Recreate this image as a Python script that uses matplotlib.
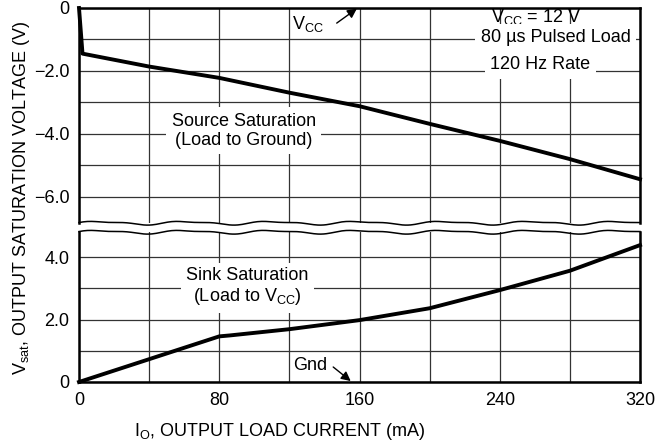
import numpy as np
import matplotlib.pyplot as plt

plt.rcParams['font.family'] = ['Liberation Sans Narrow', 'Liberation Sans', 'DejaVu Sans']
plt.rcParams['mathtext.fontset'] = 'custom'
plt.rcParams['mathtext.rm'] = 'Liberation Sans'
plt.rcParams['mathtext.it'] = 'Liberation Sans'
plt.rcParams['font.size'] = 13

# source saturation (load to ground) - upper panel
source_ma = [0, 2, 40, 80, 120, 160, 200, 240, 280, 320]
source_v = [0, -1.45, -1.86, -2.22, -2.69, -3.12, -3.68, -4.22, -4.80, -5.44]
# sink saturation (load to Vcc) - lower panel
sink_ma = [0, 80, 86, 120, 160, 200, 240, 280, 320]
sink_v = [0, 1.46, 1.49, 1.69, 1.98, 2.36, 2.94, 3.56, 4.38]

x_ticks = [0, 80, 160, 240, 320]
x_minor = [40, 120, 200, 280]
top_ticks = [0, -2, -4, -6]
top_minor = [-1, -3, -5]
top_labels = ['0', '\u22122.0', '\u22124.0', '\u22126.0']
bot_ticks = [0, 2, 4]
bot_minor = [1, 3]
bot_labels = ['0', '2.0', '4.0']

fig = plt.figure(figsize=(6.69, 4.46), dpi=100)
L, R = 79 / 669, 640 / 669
ax1 = fig.add_axes([L, 1 - 223 / 446, R - L, 215 / 446])
ax2 = fig.add_axes([L, 1 - 382 / 446, R - L, 150 / 446])

ax1.set_ylim(-6.83, 0)
ax2.set_ylim(0, 4.8)
ax1.set_yticks(top_ticks)
ax1.set_yticklabels(top_labels)
ax1.set_yticks(top_minor, minor=True)
ax2.set_yticks(bot_ticks)
ax2.set_yticklabels(bot_labels)
ax2.set_yticks(bot_minor, minor=True)

for ax in (ax1, ax2):
    ax.set_xlim(0, 320)
    ax.set_xticks(x_ticks)
    ax.set_xticks(x_minor, minor=True)
    ax.grid(True, which='both', color='#333333', lw=0.9)
    ax.set_axisbelow(True)
    ax.tick_params(which='both', length=0, pad=7, labelsize=13)
    for s in ax.spines.values():
        s.set_linewidth(1.8)
ax1.tick_params(axis='x', labelbottom=False)
ax1.spines['bottom'].set_visible(False)
ax2.spines['top'].set_visible(False)

# wavy break lines
xs = np.linspace(0, 1, 400)
wave = 1.5 * np.sin(2 * np.pi * xs * 6.5) + 0.7 * np.sin(2 * np.pi * xs * 13 + 0.7)
ax1.plot(xs, wave / 215, transform=ax1.transAxes, color='k', lw=1.1, clip_on=False)
ax2.plot(xs, 1 + wave / 150, transform=ax2.transAxes, color='k', lw=1.1, clip_on=False)

ax1.plot(source_ma, source_v, color='k', lw=2.8, clip_on=False, zorder=5)
ax2.plot(sink_ma, sink_v, color='k', lw=2.8, clip_on=False, zorder=5)

white = dict(boxstyle='square,pad=0.3', fc='white', ec='none')

ax1.text(94, -3.9, 'Source Saturation\n(Load to Ground)', ha='center', va='center',
         linespacing=1.15, bbox=white)
ax2.text(96, 3.04, 'Sink Saturation\n(Load to V$_{\\mathrm{CC}}$)', ha='center', va='center',
         linespacing=1.15, bbox=white)

ax1.text(121.5, -0.5, 'V$_{\\mathrm{CC}}$', ha='left', va='center')
ax1.annotate('', xy=(158.5, -0.02), xytext=(147, -0.48),
             arrowprops=dict(arrowstyle='-|>', color='k', lw=1, shrinkA=0, shrinkB=0,
                             mutation_scale=14))
ax2.text(122, 0.54, 'Gnd', ha='left', va='center')
ax2.annotate('', xy=(155, 0.03), xytext=(145, 0.48),
             arrowprops=dict(arrowstyle='-|>', color='k', lw=1, shrinkA=0, shrinkB=0,
                             mutation_scale=14))

ax1.text(261, -0.3, 'V$_{\\mathrm{CC}}$ = 12 V', ha='center', va='center')
ax1.text(272, -0.95, '80 \u00b5s Pulsed Load', ha='center', va='center', bbox=white)
ax1.text(263, -1.8, '120 Hz Rate', ha='center', va='center', bbox=white)

fig.text(22 / 669, 1 - 198 / 446, 'V$_{\\mathrm{sat}}$, OUTPUT SATURATION VOLTAGE (V)',
         rotation=90, ha='center', va='center')
fig.text(280 / 669, 1 - 432 / 446, 'I$_{\\mathrm{O}}$, OUTPUT LOAD CURRENT (mA)',
         ha='center', va='center')

fig.savefig('out.png', dpi=100)
